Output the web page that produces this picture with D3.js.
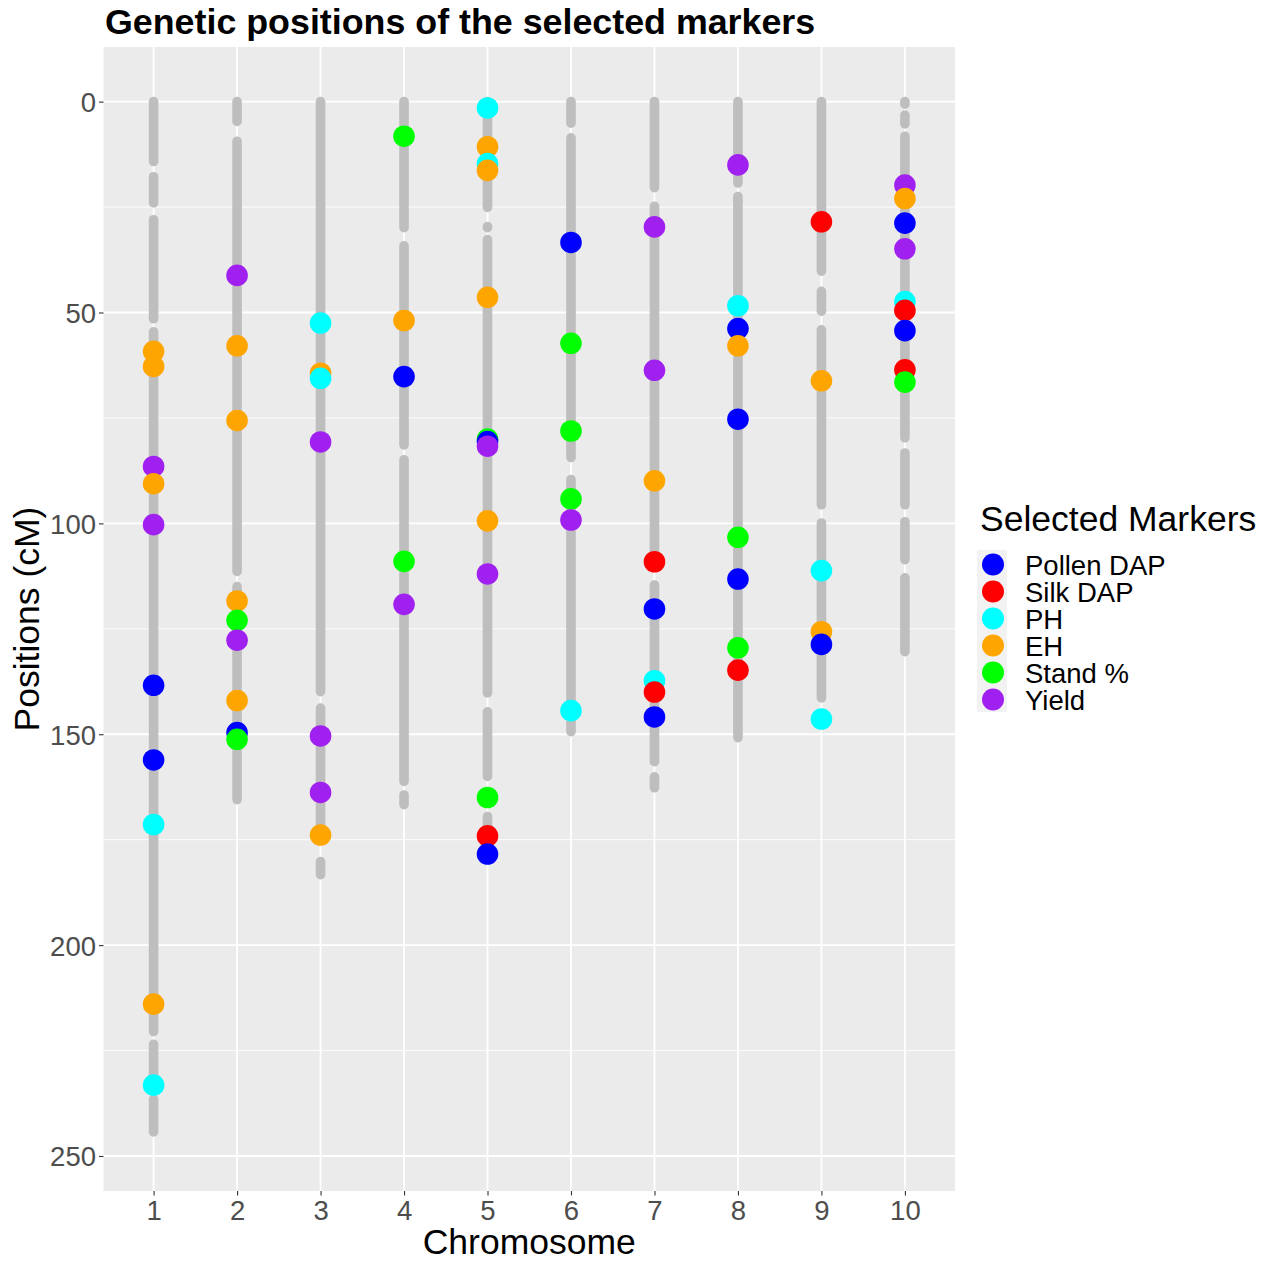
<!DOCTYPE html>
<html>
<head>
<meta charset="utf-8">
<script src="https://cdn.jsdelivr.net/npm/d3@7"></script>
<style>
  body { margin: 0; background: #ffffff; }
  text { font-family: "Liberation Sans", Arial, Helvetica, sans-serif; }
</style>
</head>
<body>
<svg id="chart" width="1270" height="1262"></svg>
<script>
// ---- data -------------------------------------------------------------
const chromosomes = [1, 2, 3, 4, 5, 6, 7, 8, 9, 10];
const yTicks = [0, 50, 100, 150, 200, 250];
const yMinorTicks = [25, 75, 125, 175, 225];

const traits = ["Pollen DAP", "Silk DAP", "PH", "EH", "Stand %", "Yield"];
const traitColors = ["#0000FF", "#FF0000", "#00FFFF", "#FFA500", "#00FF00", "#A020F0"];

// Runs of densely spaced genotyped markers: [chromosome, first cM, last cM]
const markerSpans = [
  [1, 0, 14.2], [1, 17.8, 24], [1, 28, 51.5], [1, 54.6, 220.5], [1, 223.5, 233], [1, 236.5, 244.3],
  [2, 0, 4.7], [2, 9.4, 111.4], [2, 115, 165.5],
  [3, 0, 139.9], [3, 143.8, 175], [3, 180.2, 183.3],
  [4, 0, 29.9], [4, 34.2, 81.4], [4, 84.9, 161.2], [4, 164.4, 166.7],
  [5, 0, 25.1], [5, 29.6, 29.9], [5, 32.7, 140.2], [5, 144.7, 160], [5, 169.5, 178.4],
  [6, 0, 5.1], [6, 8.6, 84.4], [6, 89.6, 149.4],
  [7, 0, 20.4], [7, 24.8, 110], [7, 114.6, 156.5], [7, 160.1, 162.7],
  [8, 0, 19.3], [8, 22.5, 150.8],
  [9, 0, 40.2], [9, 45, 49.7], [9, 54.1, 95.6], [9, 99.9, 141.4],
  [10, 0, 0.6], [10, 3.2, 5.3], [10, 8.2, 79.7], [10, 83.3, 95.6], [10, 99.6, 108.6], [10, 112.9, 130.4]
];

// Selected markers per trait: [chromosome, position cM]
const pollenDAP = [[1, 138.4], [1, 156.1], [2, 149.6], [4, 65.2], [5, 80.6], [5, 178.4], [6, 33.4],
  [7, 120.3], [7, 145.9], [8, 53.8], [8, 75.3], [8, 113.2], [9, 128.7], [10, 28.8], [10, 54.3]];
const silkDAP = [[5, 174.1], [7, 109.1], [7, 140.0], [8, 134.8], [9, 28.5], [10, 49.5], [10, 63.6]];
const plantHeight = [[1, 171.4], [1, 233.2], [3, 52.5], [3, 65.6], [5, 1.5], [5, 14.7], [6, 144.4],
  [7, 137.3], [8, 48.4], [9, 111.2], [9, 146.4], [10, 47.4]];
const earHeight = [[1, 59.2], [1, 62.8], [1, 90.6], [1, 214.0], [2, 57.9], [2, 75.6], [2, 118.4], [2, 142.0],
  [3, 64.4], [3, 173.9], [4, 51.9], [5, 10.7], [5, 16.3], [5, 46.4], [5, 99.4], [7, 89.9], [8, 57.9],
  [9, 66.2], [9, 125.7], [10, 23.0]];
const standPct = [[2, 123.0], [2, 151.2], [4, 8.2], [4, 109.0], [5, 80.0], [5, 165.0], [6, 57.3], [6, 78.1],
  [6, 94.2], [8, 103.3], [8, 129.5], [10, 66.5]];
const grainYield = [[1, 86.5], [1, 100.3], [2, 41.2], [2, 127.7], [3, 80.7], [3, 150.4], [3, 163.8],
  [4, 119.2], [5, 81.7], [5, 112.0], [6, 99.2], [7, 29.7], [7, 63.7], [8, 15.0], [10, 19.8], [10, 34.9]];

const traitSeries = [pollenDAP, silkDAP, plantHeight, earHeight, standPct, grainYield];

// ---- layout -----------------------------------------------------------
const panel = { left: 103.5, right: 955, top: 47, bottom: 1191 };
const svg = d3.select("#chart");

const x = d3.scaleLinear().domain([0.4, 10.6]).range([panel.left, panel.right]);
const y = d3.scaleLinear().domain([-12.95, 258.3]).range([panel.top, panel.bottom]);
const color = d3.scaleOrdinal().domain(traits).range(traitColors);

// panel background
svg.append("rect")
  .attr("x", panel.left).attr("y", panel.top)
  .attr("width", panel.right - panel.left).attr("height", panel.bottom - panel.top)
  .attr("fill", "#EBEBEB");

const grid = svg.append("g");
grid.selectAll("line.minor").data(yMinorTicks).join("line")
  .attr("x1", panel.left).attr("x2", panel.right)
  .attr("y1", d => y(d)).attr("y2", d => y(d))
  .attr("stroke", "#ffffff").attr("stroke-width", 0.9);
grid.selectAll("line.majorY").data(yTicks).join("line")
  .attr("x1", panel.left).attr("x2", panel.right)
  .attr("y1", d => y(d)).attr("y2", d => y(d))
  .attr("stroke", "#ffffff").attr("stroke-width", 1.8);
grid.selectAll("line.majorX").data(chromosomes).join("line")
  .attr("y1", panel.top).attr("y2", panel.bottom)
  .attr("x1", d => x(d)).attr("x2", d => x(d))
  .attr("stroke", "#ffffff").attr("stroke-width", 1.8);

// all genotyped markers (grey)
svg.append("g").selectAll("line").data(markerSpans).join("line")
  .attr("x1", d => x(d[0])).attr("x2", d => x(d[0]))
  .attr("y1", d => y(d[1])).attr("y2", d => y(d[2]))
  .attr("stroke", "#BEBEBE").attr("stroke-width", 9.6).attr("stroke-linecap", "round");

// selected markers, drawn in order of map position
const selected = [];
traitSeries.forEach((series, i) => series.forEach(([chr, pos]) => selected.push({ chr, pos, trait: traits[i] })));
selected.sort((a, b) => a.pos - b.pos);

svg.append("g").selectAll("circle").data(selected).join("circle")
  .attr("cx", d => x(d.chr)).attr("cy", d => y(d.pos))
  .attr("r", 10.8).attr("fill", d => color(d.trait));

// ---- axes -------------------------------------------------------------
const yAxis = d3.axisLeft(y).tickValues(yTicks).tickSize(4.5).tickPadding(3);
const gy = svg.append("g").attr("transform", `translate(${panel.left},0)`).call(yAxis);
const xAxis = d3.axisBottom(x).tickValues(chromosomes).tickSize(4.5).tickPadding(4).tickFormat(d3.format("d"));
const gx = svg.append("g").attr("transform", `translate(0,${panel.bottom})`).call(xAxis);
[gx, gy].forEach(g => {
  g.select(".domain").remove();
  g.selectAll(".tick line").attr("stroke", "#333333").attr("stroke-width", 1.1);
  g.selectAll(".tick text").attr("fill", "#4D4D4D").style("font-size", "27.5px")
    .style("font-family", "'Liberation Sans', Arial, sans-serif");
});
gy.selectAll(".tick text").attr("dy", "0.36em");
gx.selectAll(".tick text").attr("dy", "0.74em");

// titles
svg.append("text")
  .attr("x", 105).attr("y", 34)
  .style("font-size", "35.8px").style("font-weight", "bold").attr("fill", "#000")
  .text("Genetic positions of the selected markers");

svg.append("text")
  .attr("x", (panel.left + panel.right) / 2).attr("y", 1254)
  .attr("text-anchor", "middle").style("font-size", "35.5px").attr("fill", "#000")
  .text("Chromosome");

svg.append("text")
  .attr("transform", `translate(39,${(panel.top + panel.bottom) / 2}) rotate(-90)`)
  .attr("text-anchor", "middle").style("font-size", "35.5px").attr("fill", "#000")
  .text("Positions (cM)");

// ---- legend -----------------------------------------------------------
const legend = svg.append("g").attr("transform", "translate(977,550)");
legend.append("text")
  .attr("x", 3).attr("y", -19)
  .style("font-size", "35.5px").attr("fill", "#000")
  .text("Selected Markers");

const keyH = 27;
const rows = legend.selectAll("g.key").data(traits).join("g")
  .attr("transform", (d, i) => `translate(0,${i * keyH})`);
rows.append("rect").attr("width", 30).attr("height", keyH).attr("fill", "#F2F2F2");
rows.append("circle").attr("cx", 16).attr("cy", keyH / 2 + 1).attr("r", 11).attr("fill", d => color(d));
rows.append("text")
  .attr("x", 48).attr("y", keyH / 2 + 11)
  .style("font-size", "27.5px").attr("fill", "#000")
  .text(d => d);
</script>
</body>
</html>
